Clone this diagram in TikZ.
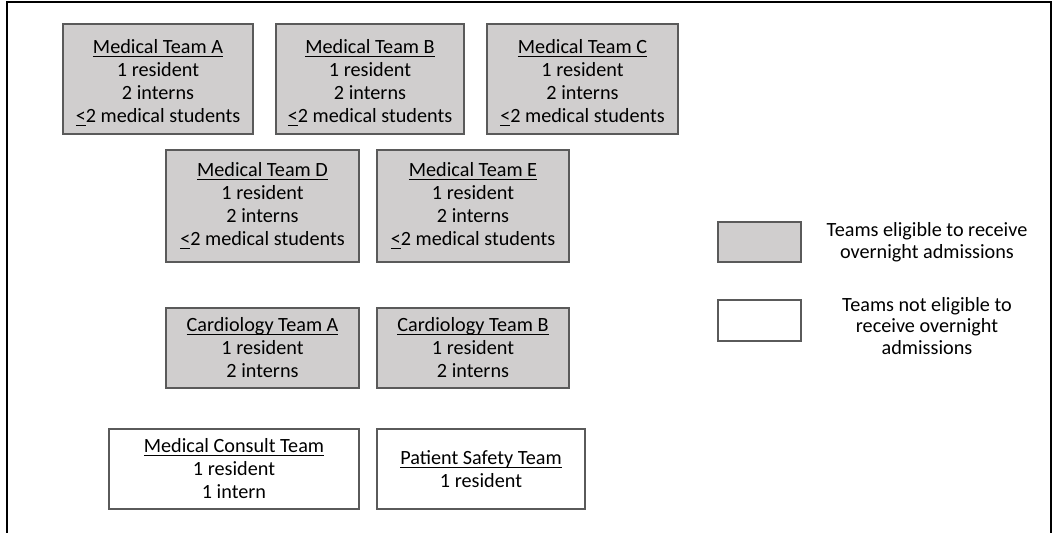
\documentclass[tikz,border=0pt]{standalone}
\usepackage{fontspec}
\setmainfont{Carlito}
\definecolor{teamgray}{HTML}{D0CECE}
\definecolor{edgegray}{HTML}{5A5A5A}
\newcommand{\teamname}[1]{\underline{\raisebox{0pt}[\height][0pt]{#1}}}
\tikzset{
  team/.style={draw=edgegray, line width=0.9pt, align=center, inner sep=0pt,
    font=\fontsize{11.5}{13.1}\selectfont},
  eligible/.style={team, fill=teamgray},
  noteligible/.style={team, fill=white},
  legendtext/.style={align=center, font=\fontsize{11.5}{12.3}\selectfont}
}
\begin{document}
\begin{tikzpicture}[x=0.02cm,y=-0.02cm]
	\useasboundingbox (0,0) rectangle (1058,533);
	
	%The open frame
	\draw[line width=1.2pt] (7,533) -- (7,2) -- (1051,2) -- (1051,533);

	%Medical teams
	\node[eligible, minimum width=190*0.02cm, minimum height=110*0.02cm] (medA) at (158,79)
	  {\rule{0pt}{12.5pt}\teamname{Medical Team A}\\1 resident\\2 interns\\\underline{<}2 medical students};
	\node[eligible, minimum width=188*0.02cm, minimum height=110*0.02cm] (medB) at (370,79)
	  {\rule{0pt}{12.5pt}\teamname{Medical Team B}\\1 resident\\2 interns\\\underline{<}2 medical students};
	\node[eligible, minimum width=191*0.02cm, minimum height=110*0.02cm] (medC) at (582.5,79)
	  {\rule{0pt}{12.5pt}\teamname{Medical Team C}\\1 resident\\2 interns\\\underline{<}2 medical students};
	\node[eligible, minimum width=193*0.02cm, minimum height=112*0.02cm] (medD) at (262.5,206)
	  {\teamname{Medical Team D}\\1 resident\\2 interns\\\underline{<}2 medical students};
	\node[eligible, minimum width=192*0.02cm, minimum height=112*0.02cm] (medE) at (473,206)
	  {\teamname{Medical Team E}\\1 resident\\2 interns\\\underline{<}2 medical students};

	%Cardiology teams
	\node[eligible, minimum width=193*0.02cm, minimum height=80*0.02cm] (cardA) at (262.5,348)
	  {\teamname{Cardiology Team A}\\1 resident\\2 interns};
	\node[eligible, minimum width=192*0.02cm, minimum height=80*0.02cm] (cardB) at (473,348)
	  {\teamname{Cardiology Team B}\\1 resident\\2 interns};

	%Teams without overnight admissions
	\node[noteligible, minimum width=250*0.02cm, minimum height=80*0.02cm] (consult) at (234,469)
	  {\teamname{Medical Consult Team}\\1 resident\\1 intern};
	\node[noteligible, minimum width=208*0.02cm, minimum height=80*0.02cm] (safety) at (481,469)
	  {\teamname{Patient Safety Team}\\1 resident};

	%Legend
	\node[eligible, minimum width=83*0.02cm, minimum height=40*0.02cm] (keyA) at (759.5,242) {};
	\node[noteligible, minimum width=83*0.02cm, minimum height=41*0.02cm] (keyB) at (759.5,320.5) {};
	\node[legendtext] (keyAtext) at (927,242) {Teams eligible to receive\\overnight admissions};
	\node[legendtext] (keyBtext) at (927,326) {Teams not eligible to\\receive overnight\\admissions};

\end{tikzpicture}
\end{document}
